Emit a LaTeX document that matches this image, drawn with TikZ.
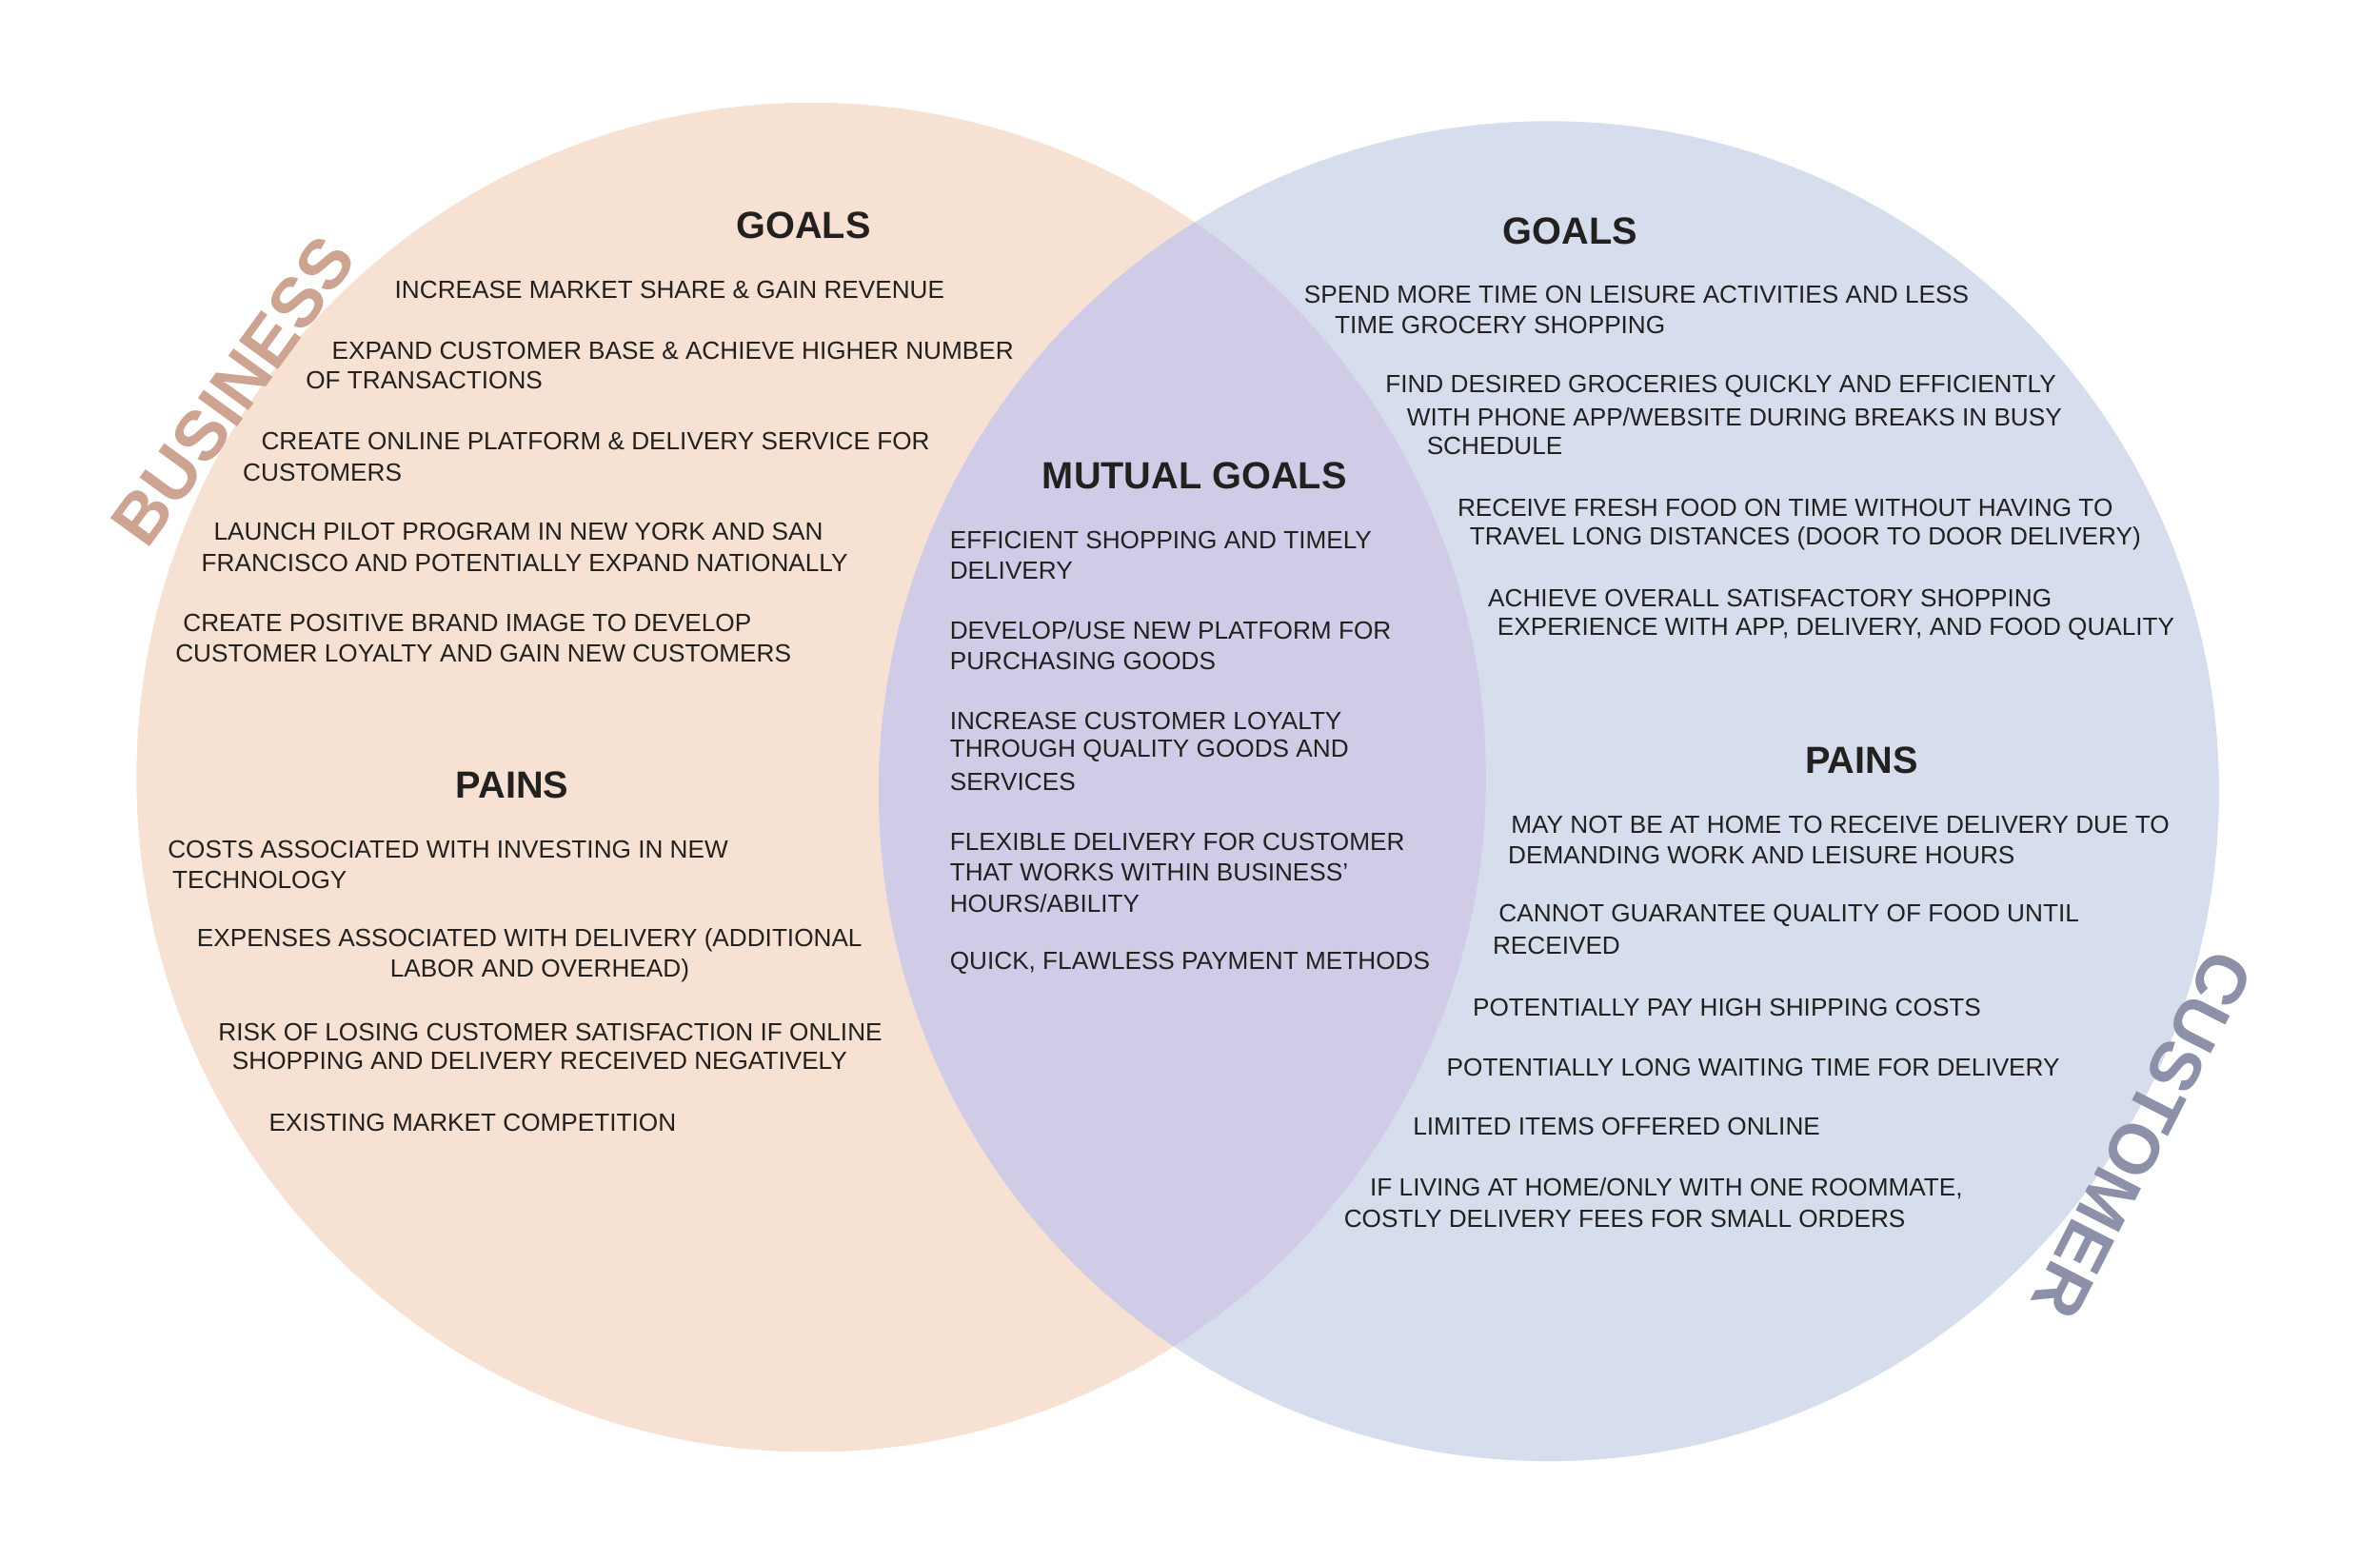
\documentclass[tikz,border=0pt]{standalone}
\usepackage{fontspec}
\setmainfont{Liberation Sans}
\usetikzlibrary{positioning}
\definecolor{peach}{RGB}{246,225,210}
\definecolor{lavender}{RGB}{214,222,238}
\definecolor{mixed}{RGB}{208,204,232}
\definecolor{bizlabel}{RGB}{205,164,145}
\definecolor{custlabel}{RGB}{140,144,168}
\definecolor{ink}{RGB}{35,32,32}
\tikzstyle{item}=[anchor=west,inner sep=0pt,font=\fontsize{7.45}{8}\selectfont,text=ink]
\tikzstyle{heading}=[inner sep=0pt,font=\bfseries\fontsize{11.3}{13}\selectfont,text=ink]
\tikzstyle{sidelabel}=[inner sep=0pt,font=\bfseries\fontsize{21}{23}\selectfont]

\begin{document}
\begin{tikzpicture}[x=0.01611cm,y=-0.01611cm]
\useasboundingbox (0,0) rectangle (1552,1005);

% the two circles and their overlap
\fill[peach] (529,507) circle (440);
\fill[lavender] (1010,516) circle (437);
\begin{scope}
\clip (529,507) circle (440);
\fill[mixed] (1010,516) circle (437);
\end{scope}

\node[sidelabel,text=bizlabel,rotate=54] (business) at (152,255) {BUSINESS};
\node[sidelabel,text=custlabel,rotate=-117] (customer) at (1397,740) {CUSTOMER};

% business
\node[heading] (bgoals) at (524,147) {GOALS};
\node[heading] (bpains) at (334,512) {PAINS};
\foreach \x/\y/\t [count=\i] in {
257/189/{INCREASE MARKET SHARE \& GAIN REVENUE},
216/229/{EXPAND CUSTOMER BASE \& ACHIEVE HIGHER NUMBER},
199/248/{OF TRANSACTIONS},
170/288/{CREATE ONLINE PLATFORM \& DELIVERY SERVICE FOR},
158/308/{CUSTOMERS},
139/347/{LAUNCH PILOT PROGRAM IN NEW YORK AND SAN},
131/367/{FRANCISCO AND POTENTIALLY EXPAND NATIONALLY},
119/406/{CREATE POSITIVE BRAND IMAGE TO DEVELOP},
114/426/{CUSTOMER LOYALTY AND GAIN NEW CUSTOMERS},
109/554/{COSTS ASSOCIATED WITH INVESTING IN NEW},
112/574/{TECHNOLOGY},
128/613/{EXPENSES ASSOCIATED WITH DELIVERY (ADDITIONAL},
254/633/{LABOR AND OVERHEAD)},
142/673/{RISK OF LOSING CUSTOMER SATISFACTION IF ONLINE},
151/692/{SHOPPING AND DELIVERY RECEIVED NEGATIVELY},
175/732/{EXISTING MARKET COMPETITION}}
  \node[item] (b\i) at (\x,\y) {\t};

% mutual
\node[heading] (mgoals) at (779,310) {MUTUAL GOALS};
\foreach \y/\t [count=\i] in {
352/{EFFICIENT SHOPPING AND TIMELY},
372/{DELIVERY},
411/{DEVELOP/USE NEW PLATFORM FOR},
431/{PURCHASING GOODS},
470/{INCREASE CUSTOMER LOYALTY},
490/{THROUGH QUALITY GOODS AND},
510/{SERVICES},
549/{FLEXIBLE DELIVERY FOR CUSTOMER},
569/{THAT WORKS WITHIN BUSINESS’},
589/{HOURS/ABILITY},
628/{QUICK, FLAWLESS PAYMENT METHODS}}
  \node[item] (m\i) at (619,\y) {\t};

% customer
\node[heading] (cgoals) at (1024,151) {GOALS};
\node[heading] (cpains) at (1214,496) {PAINS};
\foreach \x/\y/\t [count=\i] in {
850/192/{SPEND MORE TIME ON LEISURE ACTIVITIES AND LESS},
870/212/{TIME GROCERY SHOPPING},
903/252/{FIND DESIRED GROCERIES QUICKLY AND EFFICIENTLY},
917/272/{WITH PHONE APP/WEBSITE DURING BREAKS IN BUSY},
930/291/{SCHEDULE},
950/331/{RECEIVE FRESH FOOD ON TIME WITHOUT HAVING TO},
958/351/{TRAVEL LONG DISTANCES (DOOR TO DOOR DELIVERY)},
970/390/{ACHIEVE OVERALL SATISFACTORY SHOPPING},
976/410/{EXPERIENCE WITH APP, DELIVERY, AND FOOD QUALITY},
985/538/{MAY NOT BE AT HOME TO RECEIVE DELIVERY DUE TO},
983/558/{DEMANDING WORK AND LEISURE HOURS},
977/597/{CANNOT GUARANTEE QUALITY OF FOOD UNTIL},
973/617/{RECEIVED},
960/657/{POTENTIALLY PAY HIGH SHIPPING COSTS},
943/696/{POTENTIALLY LONG WAITING TIME FOR DELIVERY},
921/735/{LIMITED ITEMS OFFERED ONLINE},
893/775/{IF LIVING AT HOME/ONLY WITH ONE ROOMMATE,},
876/795/{COSTLY DELIVERY FEES FOR SMALL ORDERS}}
  \node[item] (c\i) at (\x,\y) {\t};
\end{tikzpicture}
\end{document}
